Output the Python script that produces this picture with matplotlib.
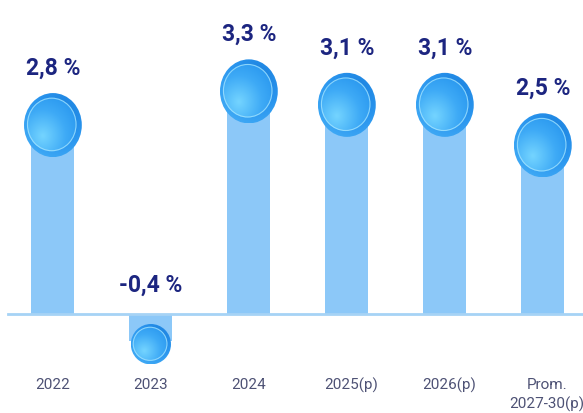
import matplotlib.pyplot as plt
from matplotlib.patches import Ellipse
from matplotlib.colors import LinearSegmentedColormap
import numpy as np

# chart data
categories = ['2022', '2023', '2024', '2025(p)', '2026(p)', 'Prom.\n2027-30(p)']
growth = [2.8, -0.4, 3.3, 3.1, 3.1, 2.5]
value_labels = ['2,8 %', '-0,4 %', '3,3 %', '3,1 %', '3,1 %', '2,5 %']

plt.rcParams['font.family'] = ['Roboto', 'DejaVu Sans']

fig = plt.figure(figsize=(5.83, 4.14), dpi=100)
ax = fig.add_axes([0, 0, 1, 1])
ax.set_xlim(-0.54, 5.41)
ax.set_ylim(-1.47, 4.67)
ax.axis('off')

x = np.arange(len(categories))

# bars
ax.bar(x, growth, width=0.44, color='#8cc8f8', zorder=1)

# baseline
ax.axhline(0, xmin=0.014, xmax=1, color='#a6d3f5', lw=2, zorder=2)

# radial gradients for the bubbles
gy, gx = np.mgrid[-1:1:200j, -1:1:200j]
dist = np.sqrt((gx + 0.35) ** 2 + (gy - 0.35) ** 2)
grad = np.clip(dist / 1.6, 0, 1)
rim_dist = np.sqrt((gx - 0.3) ** 2 + (gy + 0.4) ** 2)
rim_grad = np.clip(rim_dist / 1.8, 0, 1)

inner_cmap = LinearSegmentedColormap.from_list('bub', ['#74d4ff', '#3eaaf6', '#2190ec'])
rim_cmap = LinearSegmentedColormap.from_list('rim', ['#1a7fdc', '#2a95ee', '#48b2f8'])

for xi, v, lab in zip(x, growth, value_labels):
    small = v < 0
    w = 0.41 if small else 0.59
    h = 0.6 if small else 0.95
    cy = v - 0.05 if small else v
    ext = (xi - w / 2, xi + w / 2, cy - h / 2, cy + h / 2)

    # outer rim
    rim = Ellipse((xi, cy), w, h, facecolor='none', edgecolor='none', zorder=3)
    ax.add_patch(rim)
    im = ax.imshow(rim_grad, cmap=rim_cmap, extent=ext, origin='upper',
                   aspect='auto', zorder=3, interpolation='bilinear')
    im.set_clip_path(rim)

    # inner disc
    inner = Ellipse((xi - w * 0.02, cy + h * 0.01), w * 0.86, h * 0.84,
                    facecolor='none', edgecolor='none', zorder=4)
    ax.add_patch(inner)
    im = ax.imshow(grad, cmap=inner_cmap, extent=ext, origin='upper',
                   aspect='auto', zorder=4, interpolation='bilinear')
    im.set_clip_path(inner)

    # thin light ring
    ring = Ellipse((xi - w * 0.02, cy + h * 0.01), w * 0.84, h * 0.82,
                   facecolor='none', edgecolor='#a8e6ff', lw=0.8, alpha=0.75, zorder=5)
    ax.add_patch(ring)

    # value label
    if small:
        ty = 0.44
    else:
        ty = v + h / 2 + 0.38
    ax.text(xi, ty, lab, ha='center', va='center', fontsize=16.5,
            fontweight='bold', color='#1c2580', zorder=6)

# category labels
for xi, c in zip(x, categories):
    ax.text(xi + 0.04 * (xi > 2), -0.93, c, ha='center', va='top', fontsize=11,
            color='#4e5275', linespacing=1.4)

fig.savefig('out.png', dpi=100)
